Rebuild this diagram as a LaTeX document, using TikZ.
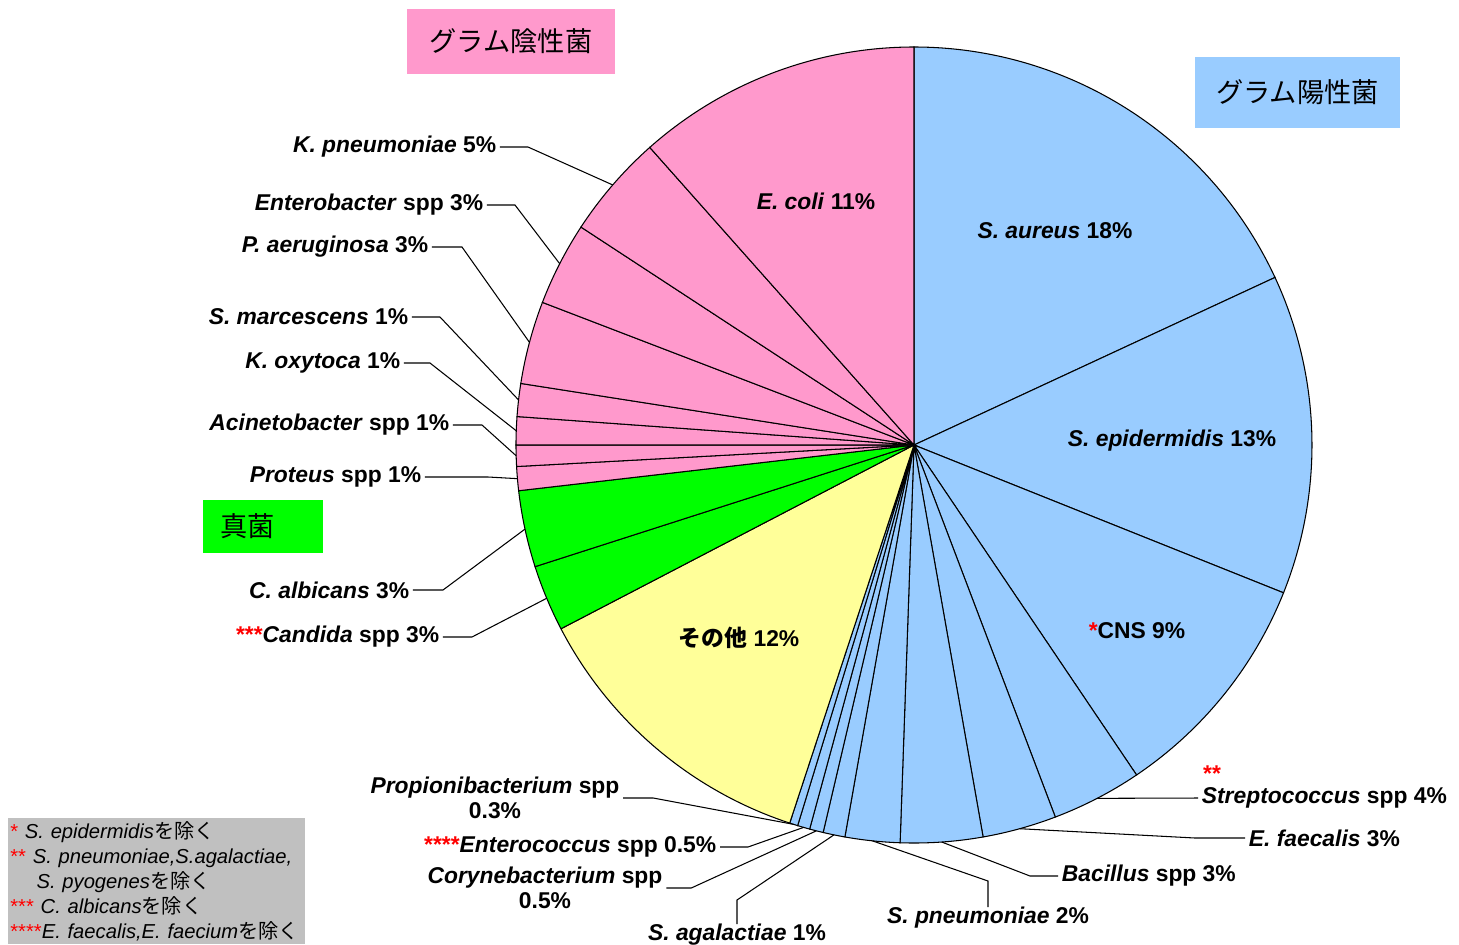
\documentclass[tikz,border=0pt]{standalone}
\usepackage{fontspec}
\setmainfont{Liberation Sans}
\newfontfamily\jp{Noto Sans CJK JP}
\definecolor{gneg}{HTML}{FF99CC}
\definecolor{gpos}{HTML}{99CCFF}
\definecolor{fungi}{HTML}{00FF00}
\definecolor{other}{HTML}{FFFF99}
\definecolor{notegray}{HTML}{C0C0C0}

\begin{document}
\begin{tikzpicture}[x=0.02cm,y=0.02cm]
\tikzstyle{every node}+=[inner sep=0pt]
\tikzstyle{wedge}=[draw=black, line width=0.6pt]
\tikzstyle{lead}=[black, line width=0.6pt]
\tikzstyle{lbl}=[font=\fontsize{13}{14.5}\selectfont\bfseries, inner xsep=2pt]
\tikzstyle{groupbox}=[font=\jp\fontsize{15.5}{18}\selectfont]
\tikzstyle{notebox}=[fill=notegray, text width=5.86cm, inner xsep=0.04cm, minimum height=2.52cm, align=left, font=\fontsize{11.5}{14.2}\selectfont]
\useasboundingbox (-914,-499) rectangle (545,445);
% gram positive
\filldraw[wedge, fill=gpos] (0,0) -- (90:398) arc (90:24.9:398) -- cycle;
\filldraw[wedge, fill=gpos] (0,0) -- (24.9:398) arc (24.9:-21.8:398) -- cycle;
\filldraw[wedge, fill=gpos] (0,0) -- (-21.8:398) arc (-21.8:-56:398) -- cycle;
\filldraw[wedge, fill=gpos] (0,0) -- (-56:398) arc (-56:-69.2:398) -- cycle;
\filldraw[wedge, fill=gpos] (0,0) -- (-69.2:398) arc (-69.2:-80:398) -- cycle;
\filldraw[wedge, fill=gpos] (0,0) -- (-80:398) arc (-80:-92:398) -- cycle;
\filldraw[wedge, fill=gpos] (0,0) -- (-92:398) arc (-92:-100:398) -- cycle;
\filldraw[wedge, fill=gpos] (0,0) -- (-100:398) arc (-100:-103.2:398) -- cycle;
\filldraw[wedge, fill=gpos] (0,0) -- (-103.2:398) arc (-103.2:-105.2:398) -- cycle;
\filldraw[wedge, fill=gpos] (0,0) -- (-105.2:398) arc (-105.2:-107:398) -- cycle;
\filldraw[wedge, fill=gpos] (0,0) -- (-107:398) arc (-107:-108.2:398) -- cycle;
% other
\filldraw[wedge, fill=other] (0,0) -- (-108.2:398) arc (-108.2:-152.5:398) -- cycle;
% fungi
\filldraw[wedge, fill=fungi] (0,0) -- (-152.5:398) arc (-152.5:-162.2:398) -- cycle;
\filldraw[wedge, fill=fungi] (0,0) -- (-162.2:398) arc (-162.2:-173.4:398) -- cycle;
% gram negative
\filldraw[wedge, fill=gneg] (0,0) -- (-173.4:398) arc (-173.4:-176.9:398) -- cycle;
\filldraw[wedge, fill=gneg] (0,0) -- (-176.9:398) arc (-176.9:-180:398) -- cycle;
\filldraw[wedge, fill=gneg] (0,0) -- (-180:398) arc (-180:-184.1:398) -- cycle;
\filldraw[wedge, fill=gneg] (0,0) -- (-184.1:398) arc (-184.1:-188.9:398) -- cycle;
\filldraw[wedge, fill=gneg] (0,0) -- (-188.9:398) arc (-188.9:-201:398) -- cycle;
\filldraw[wedge, fill=gneg] (0,0) -- (-201:398) arc (-201:-213.2:398) -- cycle;
\filldraw[wedge, fill=gneg] (0,0) -- (-213.2:398) arc (-213.2:-228.4:398) -- cycle;
\filldraw[wedge, fill=gneg] (0,0) -- (-228.4:398) arc (-228.4:-270:398) -- cycle;
% rim points
\coordinate (strE) at (-62.6:398);
\coordinate (efaE) at (-74.6:398);
\coordinate (bacE) at (-86:398);
\coordinate (spnE) at (-96:398);
\coordinate (sagE) at (-101.6:398);
\coordinate (coryE) at (-104.2:398);
\coordinate (entoE) at (-106.1:398);
\coordinate (propE) at (-107.6:398);
\coordinate (candE) at (-157.35:398);
\coordinate (calbE) at (-167.8:398);
\coordinate (protE) at (-175.15:398);
\coordinate (acinE) at (-178.45:398);
\coordinate (koxyE) at (-182.05:398);
\coordinate (smarE) at (-186.5:398);
\coordinate (paeE) at (-194.95:398);
\coordinate (entE) at (-207.1:398);
\coordinate (kpnE) at (-220.8:398);
% labels on the pie
\node[lbl] (ecoli) at (-98,244) {\textit{E. coli} 11\%};
\node[lbl] (saur) at (141,214) {\textit{S. aureus} 18\%};
\node[lbl] (sepi) at (258,4) {\textit{S. epidermidis} 13\%};
\node[lbl] (cns) at (223,-186) {\textcolor{red}{*}CNS 9\%};
\node[lbl] (sonota) at (-175,-193) {{\jp その他} 12\%};
% labels left
\node[lbl, anchor=east] (kpn) at (-414,298) {\textit{K. pneumoniae} 5\%};
\draw[lead] (kpn.east) -- ++(28,0) -- (kpnE);
\node[lbl, anchor=east] (ent) at (-427,240) {\textit{Enterobacter} spp 3\%};
\draw[lead] (ent.east) -- ++(28,0) -- (entE);
\node[lbl, anchor=east] (pae) at (-482,198) {\textit{P. aeruginosa} 3\%};
\draw[lead] (pae.east) -- ++(30,0) -- (paeE);
\node[lbl, anchor=east] (smar) at (-502,128) {\textit{S. marcescens} 1\%};
\draw[lead] (smar.east) -- ++(28,0) -- (smarE);
\node[lbl, anchor=east] (koxy) at (-510,82) {\textit{K. oxytoca} 1\%};
\draw[lead] (koxy.east) -- ++(26,0) -- (koxyE);
\node[lbl, anchor=east] (acin) at (-461,20) {\textit{Acinetobacter} spp 1\%};
\draw[lead] (acin.east) -- ++(29,0) -- (acinE);
\node[lbl, anchor=east] (prot) at (-489,-32) {\textit{Proteus} spp 1\%};
\draw[lead] (prot.east) -- ++(63,0) -- (protE);
\node[lbl, anchor=east] (calb) at (-501,-145) {\textit{C. albicans} 3\%};
\draw[lead] (calb.east) -- ++(30,0) -- (calbE);
\node[lbl, anchor=east] (cand) at (-471,-192) {\textcolor{red}{***}\textit{Candida} spp 3\%};
\draw[lead] (cand.east) -- ++(29,0) -- (candE);
% labels below
\node[lbl, align=center] (prop) at (-419,-353) {\textit{Propionibacterium} spp\\0.3\%};
\draw[lead] (prop.east) -- ++(30,0) -- (propE);
\node[lbl, anchor=east] (ento) at (-194,-402) {\textcolor{red}{****}\textit{Enterococcus} spp 0.5\%};
\draw[lead] (ento.east) -- ++(28,0) -- (entoE);
\node[lbl, align=center] (cory) at (-369,-443) {\textit{Corynebacterium} spp\\0.5\%};
\draw[lead] (cory.east) -- ++(25,0) -- (coryE);
\node[lbl] (sag) at (-177,-490) {\textit{S. agalactiae} 1\%};
\draw[lead] (sag.north) -- ++(0,24) -- (sagE);
\node[lbl] (spn) at (74,-473) {\textit{S. pneumoniae} 2\%};
\draw[lead] (spn.north) -- ++(0,26) -- (spnE);
% labels right
\node[lbl, anchor=west] (bac) at (144,-431) {\textit{Bacillus} spp 3\%};
\draw[lead] (bac.west) -- ++(-28,0) -- (bacE);
\node[lbl, anchor=west] (efa) at (331,-393) {\textit{E. faecalis} 3\%};
\draw[lead] (efa.west) -- ++(-50,0) -- (efaE);
\node[lbl, anchor=west] (strep) at (284,-353) {\textit{Streptococcus} spp 4\%};
\draw[lead] (strep.west) -- (strE);
\node[lbl, text=red, anchor=south] (strepmk) at (298,-337) {**};
% group boxes
\node[groupbox, fill=gneg, minimum width=4.16cm, minimum height=1.3cm] (neg) at (-403,403.5) {グラム陰性菌};
\node[groupbox, fill=gpos, minimum width=4.1cm, minimum height=1.42cm] (pos) at (383.5,352.5) {グラム陽性菌};
\node[groupbox, fill=fungi, text width=1.72cm, inner xsep=0.34cm, minimum height=1.06cm, align=left] (fun) at (-651,-81.5) {真菌};
% notes
\node[notebox, anchor=north west] (notes) at (-906,-373) {\textcolor{red}{*} \textit{S. epidermidis}{\jp を除く}\\
\textcolor{red}{**} \textit{S. pneumoniae,S.agalactiae,}\\
\hspace*{1.3em}\textit{S. pyogenes}{\jp を除く}\\
\textcolor{red}{***} \textit{C. albicans}{\jp を除く}\\
\textcolor{red}{****}\textit{E.~faecalis,E.~faecium}{\jp を除く}};
\end{tikzpicture}
\end{document}
